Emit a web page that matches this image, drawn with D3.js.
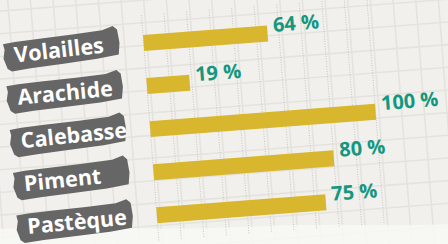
<!DOCTYPE html>
<html>
<head>
<meta charset="utf-8">
<script src="https://cdn.jsdelivr.net/npm/d3@7"></script>
<style>
  html, body { margin: 0; padding: 0; background: #f1f0ec; }
  svg { display: block; }
</style>
</head>
<body>
<div id="chart"></div>
<script>
// Data
const categories = ["Volailles", "Arachide", "Calebasse", "Piment", "Pastèque"];
const values = [55, 19, 100, 80, 75];          // bar lengths as drawn
const valueLabels = ["64 %", "19 %", "100 %", "80 %", "75 %"];
const gridTicks = [0, 10, 20, 30, 40, 50, 60, 70, 80, 90, 100];

const width = 448;
const height = 244;

const svg = d3.select("#chart")
    .append("svg")
    .attr("width", width)
    .attr("height", height);

// paper background
svg.append("rect")
    .attr("width", width)
    .attr("height", height)
    .attr("fill", "#f1f0ec");

// faint graph paper grid (slightly tilted like the rest)
const paper = svg.append("g")
    .attr("transform", "translate(143,35) rotate(-4.4)");
d3.range(-200, 420, 22.6).forEach(x => {
    paper.append("line")
        .attr("x1", x).attr("x2", x)
        .attr("y1", -80).attr("y2", 300)
        .attr("stroke", "#e4e3de").attr("stroke-width", 1.6);
});
d3.range(-80, 300, 22.6).forEach(y => {
    paper.append("line")
        .attr("x1", -200).attr("x2", 420)
        .attr("y1", y).attr("y2", y)
        .attr("stroke", "#e4e3de").attr("stroke-width", 1.6);
});

// lighter strip at the bottom
svg.append("path")
    .attr("d", "M0,229 Q60,226 120,228 T240,227 T360,225 T448,224 L448,244 L0,244 Z")
    .attr("fill", "#f9f9f6")
    .attr("opacity", 0.8);

// chart group, rotated a little
const g = svg.append("g")
    .attr("transform", "translate(143,35) rotate(-4.4)");

const x = d3.scaleLinear()
    .domain([0, 100])
    .range([0, 226]);

const y = d3.scaleBand()
    .domain(categories)
    .range([0, 188.8])
    .paddingInner(0.63)
    .paddingOuter(0);

// dotted vertical gridlines
g.selectAll(".grid")
    .data(gridTicks)
    .enter()
    .append("line")
    .attr("class", "grid")
    .attr("x1", d => x(d)).attr("x2", d => x(d))
    .attr("y1", -20).attr("y2", 207)
    .attr("stroke", "#c2c2be")
    .attr("stroke-width", 0.9)
    .attr("stroke-dasharray", "1,1.5");

// bars
g.selectAll(".bar")
    .data(categories)
    .enter()
    .append("rect")
    .attr("class", "bar")
    .attr("x", 0)
    .attr("y", d => y(d))
    .attr("width", (d, i) => x(values[i]))
    .attr("height", y.bandwidth())
    .attr("fill", "#d8b62d");

// value labels
g.selectAll(".val")
    .data(categories)
    .enter()
    .append("text")
    .attr("class", "val")
    .attr("x", (d, i) => x(values[i]) + 6)
    .attr("y", d => y(d) + y.bandwidth() / 2 - 1)
    .text((d, i) => valueLabels[i])
    .style("font-family", "'Open Sans', sans-serif")
    .style("font-weight", 700)
    .style("font-size", "20px")
    .style("fill", "#14977f");

// brush-stroke label boxes
const boxW = 115, boxH = 29;
const brush = d3.line().curve(d3.curveLinearClosed);
const shape = [
    [0, 3], [12, 2], [35, 1.5], [70, 1], [100, 0], [boxW - 4, -3], [boxW, 1],
    [boxW + 1, boxH * 0.5], [boxW - 1, boxH - 3], [92, boxH - 1], [58, boxH],
    [25, boxH + 1], [6, boxH + 2], [2, boxH - 1], [-1, boxH * 0.6], [1, boxH * 0.3]
];
const tilts = [-2, -1, -1.5, -1.5, -1];

const labels = g.selectAll(".lab")
    .data(categories)
    .enter()
    .append("g")
    .attr("class", "lab")
    .attr("transform", (d, i) => {
        const cy = y(d) + y.bandwidth() / 2;
        return `translate(-140,${cy - boxH / 2}) rotate(${tilts[i]},${boxW / 2},${boxH / 2})`;
    });

labels.append("path")
    .attr("d", brush(shape))
    .attr("fill", "#666666");

labels.append("text")
    .attr("x", 10)
    .attr("y", boxH / 2 + 8)
    .text(d => d)
    .style("font-family", "'Open Sans', sans-serif")
    .style("font-weight", 700)
    .style("font-size", "21.5px")
    .style("fill", "#ffffff");
</script>
</body>
</html>
